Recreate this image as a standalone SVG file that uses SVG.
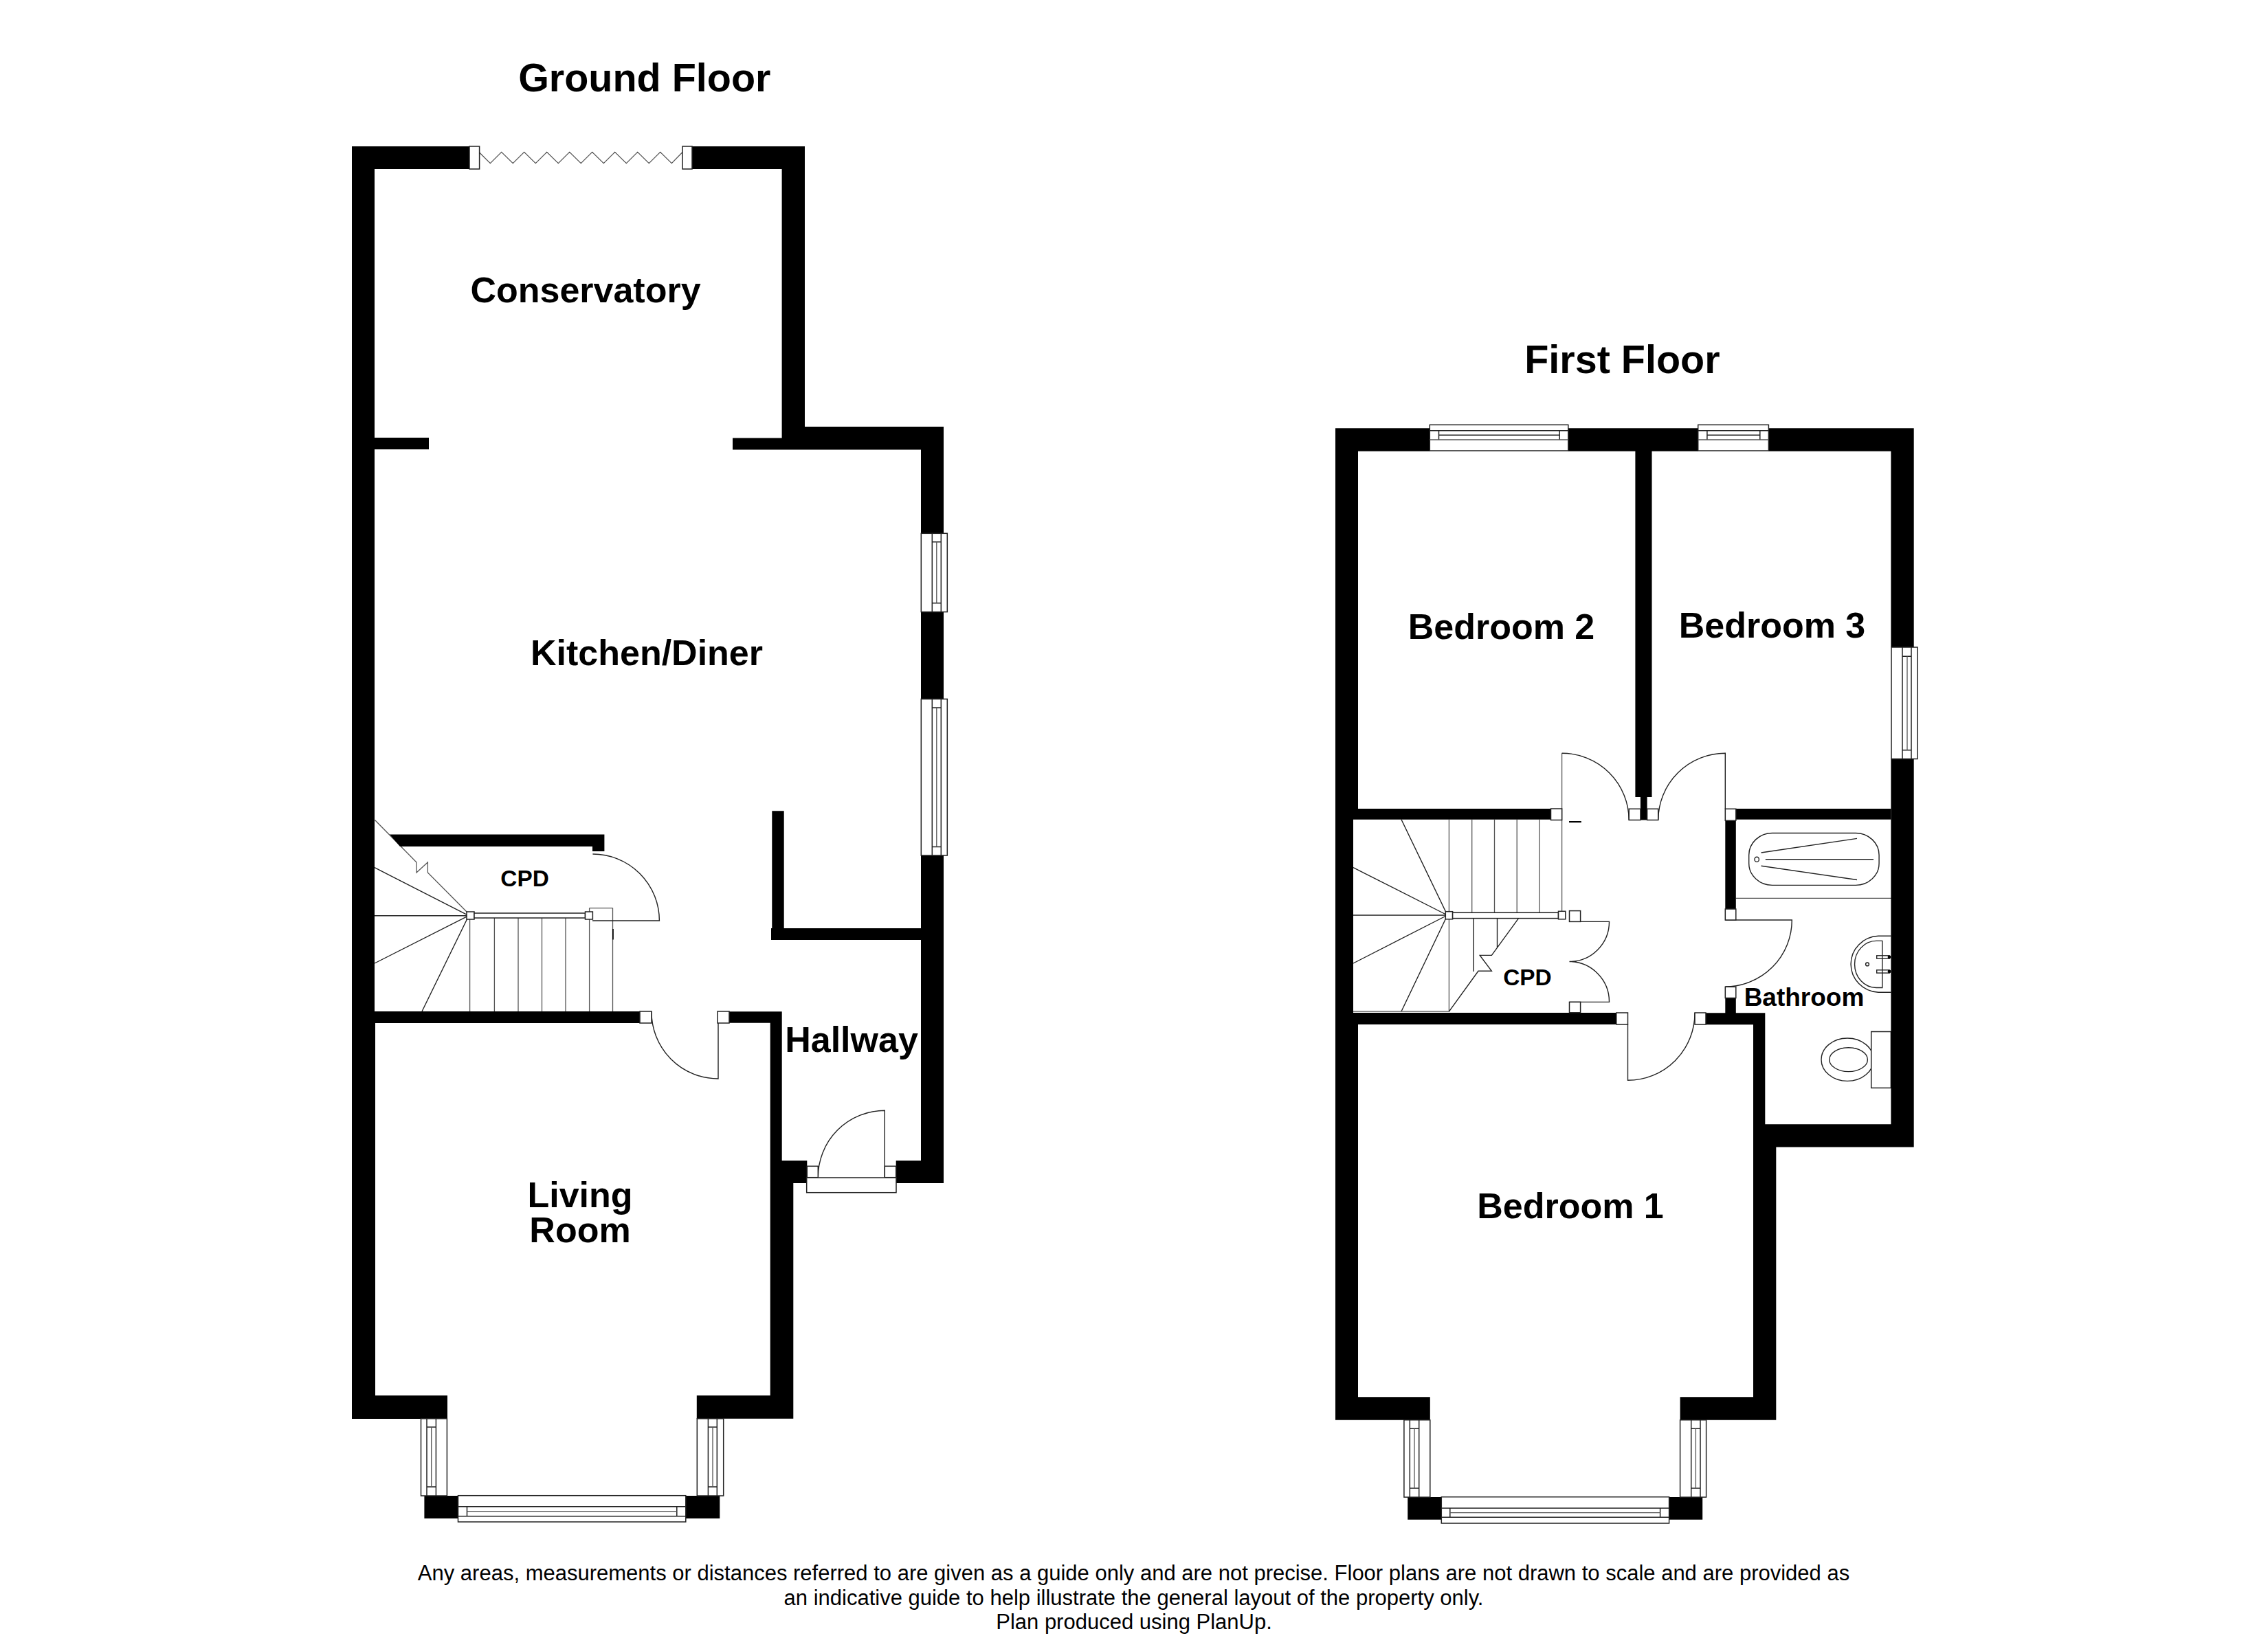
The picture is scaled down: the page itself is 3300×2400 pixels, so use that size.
<svg xmlns="http://www.w3.org/2000/svg" width="3300" height="2400" viewBox="0 0 3300 2400">
<style>
text{font-family:"Liberation Sans",Arial,sans-serif;fill:#000}
.t{font-weight:bold;font-size:57.5px;text-anchor:middle}
.r{font-weight:bold;font-size:52px;text-anchor:middle}
.c{font-weight:bold;font-size:33.4px;text-anchor:middle}
.b{font-weight:bold;font-size:37px;text-anchor:middle}
.f{font-size:31px;text-anchor:middle}
.wall{fill:#000;stroke:none}
.l{fill:none;stroke:#222;stroke-width:1.4}
.g{fill:none;stroke:#555;stroke-width:1.3}
.w{fill:#fff;stroke:#222;stroke-width:1.5}
.h{fill:none;stroke:#222;stroke-width:1.5}
</style>
<rect width="3300" height="2400" fill="#fff"/>

<g id="ground-floor">
  <g id="ground-fittings">
    <path class="g" d="M697.6 222 L713.3 237.7 L729.7 221.3 L746.3 237.7 L762.7 221.3 L779.3 237.7 L795.7 221.3 L812.3 237.7 L828.7 221.3 L845.3 237.7 L861.7 221.3 L878.3 237.7 L894.7 221.3 L911.3 237.7 L927.7 221.3 L944.3 237.7 L960.7 221.3 L977.3 237.7 L993 221.5"/>
    <path class="l" d="M682 1332.7 L545 1262.7 M682 1332.7 H545 M682 1332.7 L545 1402 M682 1332.7 L614 1472"/>
    <path class="g" d="M545.5 1193.5 L606 1255 V1270 L622.4 1255 V1270 L680 1328"/>
    <path class="g" d="M683.6 1336 V1472 M719.4 1336 V1472 M754 1336 V1472 M788.5 1336 V1472 M823 1336 V1472 M857.6 1321.6 V1472 M891.5 1321.6 V1472 M857.6 1321.6 H891.5"/>
    <rect x="891" y="1352" width="1.8" height="15.5" fill="#000"/>
    <path class="l" d="M862.4 1243 A97 97 0 0 1 959.4 1340 H862"/>
    <path class="l" d="M948 1472 A97 97 0 0 0 1045 1570 V1472"/>
    <path class="l" d="M1190.3 1713.7 A97 97 0 0 1 1287.3 1616.3 V1713.7"/>
  </g>
  <g id="ground-walls">
    <path class="wall" d="M512 213 H683 V246 H545 V637 H624 V654 H545 V1472 H931 V1489 H546 V2031 H651 V2065 H512 Z"/>
    <path class="wall" d="M1007 213 H1171 V621 H1373 V776.3 H1340 V654.5 H1066 V637.5 H1137.6 V246 H1007 Z"/>
    <rect class="wall" x="1340" y="890.6" width="33" height="126.8"/>
    <path class="wall" d="M1340 1245 H1373 V1722 H1303.7 V1689.3 H1340 Z"/>
    <path class="wall" d="M1123.3 1180.3 H1140.7 V1351 H1340 V1368 H1122 V1351 H1123.3 Z"/>
    <path class="wall" d="M567 1214.5 H879.4 V1239 H862 V1232 H582 Z"/>
    <path class="wall" d="M1061 1472.3 H1137.7 V1689.3 H1174.3 V1722 H1154.3 V2064.7 H1013.8 V2031 H1120.7 V1488.7 H1061 Z"/>
    <rect class="wall" x="617.4" y="2177" width="49.6" height="33"/>
    <rect class="wall" x="997.3" y="2177" width="50" height="33"/>
  </g>
  <g id="ground-openings">
    <rect class="w" x="683" y="213" width="14.6" height="33"/>
    <rect class="w" x="993" y="213" width="14" height="33"/>
    <rect class="w" x="679" y="1327" width="11" height="11"/>
    <rect class="w" x="690" y="1329" width="161.5" height="7"/>
    <rect class="w" x="851.5" y="1327" width="10.9" height="11"/>
    <rect class="w" x="931" y="1472" width="17" height="17"/>
    <rect class="w" x="1044" y="1472" width="17" height="17"/>
    <rect class="w" x="1174.3" y="1697.3" width="16" height="16.4"/>
    <rect class="w" x="1287.3" y="1697.3" width="16.4" height="16.4"/>
    <rect class="w" x="1173.7" y="1714" width="130.3" height="21.7"/>
    <g id="ground-window-east-1">
      <rect class="w" x="1340.3" y="776.3" width="38" height="114.3"/>
      <path class="h" d="M1356.3 776.3 V890.6 M1369.3 776.3 V890.6 M1356.3 788.8 H1369.3 M1356.3 877.7 H1369.3"/>
      <path class="g" d="M1362.8 788.8 V877.7"/>
    </g>
    <g id="ground-window-east-2">
      <rect class="w" x="1340.3" y="1017.4" width="38" height="227.6"/>
      <path class="h" d="M1356.3 1017.4 V1245 M1369.3 1017.4 V1245 M1356.3 1030 H1369.3 M1356.3 1232.6 H1369.3"/>
      <path class="g" d="M1362.8 1030 V1232.6"/>
    </g>
    <g id="ground-bay-left">
      <rect class="w" x="612.5" y="2064.7" width="37.9" height="112.3"/>
      <path class="h" d="M621 2064.7 V2177 M634.4 2064.7 V2177 M621 2077 H634.4 M621 2164 H634.4"/>
      <path class="g" d="M627.7 2077 V2164"/>
    </g>
    <g id="ground-bay-right">
      <rect class="w" x="1014.3" y="2064.7" width="38.4" height="112.3"/>
      <path class="h" d="M1030.4 2064.7 V2177 M1043.3 2064.7 V2177 M1030.4 2077 H1043.3 M1030.4 2164 H1043.3"/>
      <path class="g" d="M1037 2077 V2164"/>
    </g>
    <g id="ground-bay-front">
      <rect class="w" x="666.5" y="2176.7" width="331.3" height="38.3"/>
      <path class="h" d="M666.5 2192.7 H997.8 M666.5 2206.7 H997.8 M679.5 2192.7 V2206.7 M984.8 2192.7 V2206.7"/>
      <path class="g" d="M679.5 2199.7 H984.8"/>
    </g>
  </g>
  <g id="ground-labels">
    <text class="t" x="937.8" y="133.3">Ground Floor</text>
    <text class="r" x="852" y="440">Conservatory</text>
    <text class="r" x="941" y="967.5">Kitchen/Diner</text>
    <text class="c" x="763.6" y="1289.6">CPD</text>
    <text class="r" x="1239" y="1531">Hallway</text>
    <text class="r" x="844"><tspan x="844" y="1757">Living</tspan><tspan x="844" y="1808">Room</tspan></text>
  </g>
</g>

<g id="first-floor">
  <g id="first-fittings">
    <path class="l" d="M2106 1332 L2039 1192.7 M2106 1332 L1969 1262.7 M2106 1332 H1969 M2106 1332 L1969 1402 M2106 1332 L2039 1472"/>
    <path class="g" d="M1969 1472.2 H2108.4 V1192.7 M2141.7 1192.7 V1328.3 M2174.5 1192.7 V1328.3 M2207.2 1192.7 V1328.3 M2239.9 1192.7 V1328.3 M2272.6 1096.2 V1328.3"/>
    <path class="l" d="M2144 1336.6 V1414 M2178.5 1336.6 V1378.5 M2209.5 1336.6 L2170.4 1390.4 H2153.2 L2170.4 1413.3 H2151 L2108.4 1472.2"/>
    <rect x="2283" y="1195" width="17.8" height="2.2" fill="#000"/>
    <path class="l" d="M2272.6 1096.2 A97.6 97.6 0 0 1 2370.2 1193.5"/>
    <path class="l" d="M2510.3 1177.3 V1096.2 A97.6 97.6 0 0 0 2412.7 1193.5"/>
    <path class="l" d="M2510.3 1339 H2607.3 A97 97 0 0 1 2510.3 1436"/>
    <path class="l" d="M2283.5 1341.4 H2341.5 A58 58 0 0 1 2283.5 1399.5 A58.5 58.5 0 0 1 2341.5 1458.4 H2283.5"/>
    <path class="l" d="M2368.5 1491 V1572.3 A97.7 97.7 0 0 0 2466 1474"/>
    <g id="bath">
      <path class="g" d="M2525.8 1307.4 H2752"/>
      <rect class="l" x="2544.7" y="1212.5" width="189.4" height="75.9" rx="34" ry="32"/>
      <path class="l" d="M2562.5 1241 L2702 1220.4 M2568.8 1250.8 H2726 M2562.5 1260.3 L2702 1280.5"/>
      <ellipse class="l" cx="2556.2" cy="1250.8" rx="3.2" ry="3.6"/>
    </g>
    <g id="basin">
      <path class="l" d="M2751.4 1362.3 H2733 A42 41 0 0 0 2733 1444.2 H2751.4"/>
      <path class="l" d="M2738.8 1369.4 V1437.5 H2730 A31.4 34 0 0 1 2730 1369.4 Z"/>
      <rect class="l" x="2730.7" y="1390.8" width="18.3" height="4.3"/>
      <rect class="l" x="2730.7" y="1411.8" width="18.3" height="4.3"/>
      <circle cx="2749" cy="1393" r="2.4" fill="#000"/>
      <circle cx="2749" cy="1414" r="2.4" fill="#000"/>
      <circle class="l" cx="2717" cy="1403.4" r="2.4"/>
    </g>
    <g id="toilet">
      <ellipse class="l" cx="2688" cy="1542.2" rx="38" ry="31.2"/>
      <ellipse class="l" cx="2689.6" cy="1542.2" rx="27.8" ry="17.4"/>
      <rect class="w" x="2722.7" y="1501.5" width="28.7" height="81.9"/>
    </g>
  </g>
  <g id="first-walls">
    <path class="wall" d="M1943 623.3 H2080.3 V656.7 H1976 V1177 H2256.5 V1192.7 H1969 V1474 H2351.8 V1491 H1976 V2033.3 H2080.8 V2066.7 H1943 Z"/>
    <path class="wall" d="M2281.8 623.3 H2470.7 V656.7 H2403.5 V1160 H2396.6 V1193.5 H2386.9 V1160 H2379.4 V656.7 H2281.8 Z"/>
    <path class="wall" d="M2573.4 623.3 H2784.7 V942 H2751.4 V656.7 H2573.4 Z"/>
    <path class="wall" d="M2510.3 1452.5 H2525.8 V1474.2 H2568.3 V1636.3 H2751.4 V1104.5 H2784.7 V1669.6 H2584.3 V2066.7 H2444.6 V2033.3 H2551 V1491.2 H2482 V1474.2 H2510.3 Z"/>
    <rect class="wall" x="2525.8" y="1177" width="225.6" height="15.7"/>
    <rect class="wall" x="2510.3" y="1195" width="15.5" height="128"/>
    <rect class="wall" x="2048.2" y="2179" width="49.1" height="32.7"/>
    <rect class="wall" x="2428.6" y="2179" width="48.6" height="32.7"/>
  </g>
  <g id="first-openings">
    <rect class="w" x="2256.5" y="1177" width="16.1" height="16.5"/>
    <rect class="w" x="2370.2" y="1177.3" width="16.7" height="16.2"/>
    <rect class="w" x="2396.6" y="1177.3" width="16.1" height="16.2"/>
    <rect class="w" x="2510.3" y="1177.3" width="15.5" height="17"/>
    <rect class="w" x="2510.3" y="1323" width="15.5" height="16"/>
    <rect class="w" x="2510.3" y="1436.3" width="15.5" height="16.2"/>
    <rect class="w" x="2351.8" y="1474" width="16.7" height="17"/>
    <rect class="w" x="2466" y="1474" width="16" height="17"/>
    <rect class="w" x="2283.5" y="1325.6" width="16.1" height="15.8"/>
    <rect class="w" x="2283.5" y="1458.4" width="16.1" height="15.4"/>
    <rect class="w" x="2103.3" y="1326.7" width="10.3" height="11.1"/>
    <rect class="w" x="2113.6" y="1328.3" width="153.9" height="8.3"/>
    <rect class="w" x="2267.5" y="1326.3" width="10.3" height="11.5"/>
    <g id="first-window-north-1">
      <rect class="w" x="2080.3" y="618.3" width="201.5" height="37.7"/>
      <path class="h" d="M2080.3 626.7 H2281.8 M2093.5 633.3 H2269.2 M2093.5 626.7 V640 M2269.2 626.7 V640"/>
      <path class="g" d="M2080.3 640 H2281.8" stroke-width="2"/>
    </g>
    <g id="first-window-north-2">
      <rect class="w" x="2470.7" y="618.3" width="102.7" height="37.7"/>
      <path class="h" d="M2470.7 626.7 H2573.4 M2483.9 633.3 H2560.8 M2483.9 626.7 V640 M2560.8 626.7 V640"/>
      <path class="g" d="M2470.7 640 H2573.4" stroke-width="2"/>
    </g>
    <g id="first-window-east">
      <rect class="w" x="2752" y="942" width="38" height="162.5"/>
      <path class="h" d="M2768 942 V1104.5 M2781 942 V1104.5 M2768 955.3 H2781 M2768 1091.7 H2781"/>
      <path class="g" d="M2775 955.3 V1091.7"/>
    </g>
    <g id="first-bay-left">
      <rect class="w" x="2042.9" y="2066.7" width="37.9" height="112.3"/>
      <path class="h" d="M2051.3 2066.7 V2179 M2064.7 2066.7 V2179 M2051.3 2079.3 H2064.7 M2051.3 2166 H2064.7"/>
      <path class="g" d="M2058 2079.3 V2166"/>
    </g>
    <g id="first-bay-right">
      <rect class="w" x="2444.6" y="2066.7" width="38" height="112.3"/>
      <path class="h" d="M2460.7 2066.7 V2179 M2474 2066.7 V2179 M2460.7 2079.3 H2474 M2460.7 2166 H2474"/>
      <path class="g" d="M2467.4 2079.3 V2166"/>
    </g>
    <g id="first-bay-front">
      <rect class="w" x="2097.3" y="2178.7" width="331.3" height="38.3"/>
      <path class="h" d="M2097.3 2195 H2428.6 M2097.3 2208.3 H2428.6 M2109.8 2195 V2208.3 M2415.6 2195 V2208.3"/>
      <path class="g" d="M2109.8 2201.7 H2415.6"/>
    </g>
  </g>
  <g id="first-labels">
    <text class="t" x="2360.4" y="543.3">First Floor</text>
    <text class="r" x="2184.5" y="930">Bedroom 2</text>
    <text class="r" x="2578.5" y="928">Bedroom 3</text>
    <text class="c" x="2222.4" y="1434">CPD</text>
    <text class="b" x="2625" y="1464">Bathroom</text>
    <text class="r" x="2285" y="1773">Bedroom 1</text>
  </g>
</g>

<g id="disclaimer">
  <text class="f" x="1649.5" y="2300">Any areas, measurements or distances referred to are given as a guide only and are not precise. Floor plans are not drawn to scale and are provided as</text>
  <text class="f" x="1649.5" y="2336">an indicative guide to help illustrate the general layout of the property only.</text>
  <text class="f" x="1650" y="2371">Plan produced using PlanUp.</text>
</g>
</svg>
